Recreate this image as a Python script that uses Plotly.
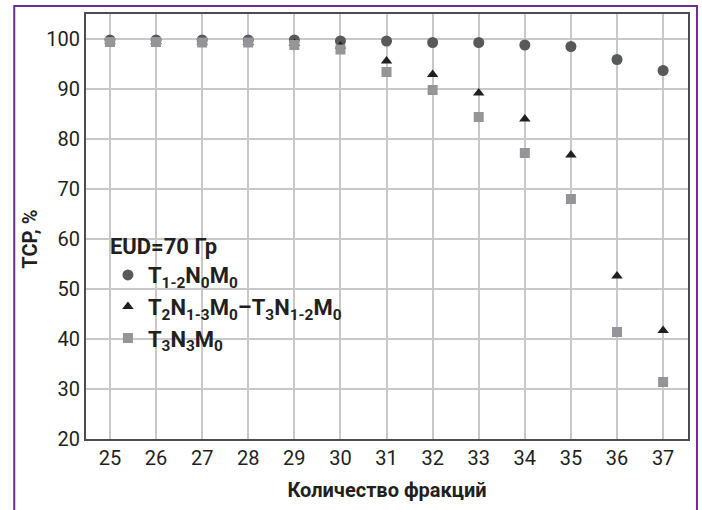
import plotly.graph_objects as go

# Number of fractions
fractions = [25, 26, 27, 28, 29, 30, 31, 32, 33, 34, 35, 36, 37]

# TCP, % for each stage group
tcp_t12n0m0 = [99.8, 99.8, 99.8, 99.8, 99.8, 99.6, 99.6, 99.3, 99.3, 98.8, 98.5, 95.9, 93.7]
tcp_t2n13m0 = [99.6, 99.5, 99.4, 99.3, 99.1, 98.6, 95.6, 92.9, 89.2, 84.0, 76.8, 52.6, 41.7]
tcp_t3n3m0 = [99.4, 99.4, 99.3, 99.3, 98.8, 97.9, 93.4, 89.8, 84.4, 77.2, 68.0, 41.4, 31.4]

x_ticks = list(range(25, 38))
y_ticks = list(range(20, 101, 10))

FONT = "Roboto, Arial, sans-serif"

names = [
    "T<sub>1-2</sub>N<sub>0</sub>M<sub>0</sub>",
    "T<sub>2</sub>N<sub>1-3</sub>M<sub>0</sub>–T<sub>3</sub>N<sub>1-2</sub>M<sub>0</sub>",
    "T<sub>3</sub>N<sub>3</sub>M<sub>0</sub>",
]

fig = go.Figure()
fig.add_trace(go.Scatter(
    x=fractions, y=tcp_t12n0m0, mode="markers", name=names[0],
    marker=dict(symbol="circle", size=11, color="#58595b"),
))
fig.add_trace(go.Scatter(
    x=fractions, y=tcp_t2n13m0, mode="markers", name=names[1],
    marker=dict(symbol="triangle-up", size=10, color="#231f20"),
))
fig.add_trace(go.Scatter(
    x=fractions, y=tcp_t3n3m0, mode="markers", name=names[2],
    marker=dict(symbol="square", size=10, color="#939598"),
))

L, R, T, B = 86, 12, 14, 70
W, H = 702, 510
pw, ph = W - L - R, H - T - B

def px_x(p):
    return (p - L) / pw

def px_y(p):
    return (H - B - p) / ph

fig.update_layout(
    width=W, height=H,
    margin=dict(l=L, r=R, t=T, b=B),
    paper_bgcolor="white", plot_bgcolor="white",
    font=dict(family=FONT, size=20, color="#231f20"),
    showlegend=True,
    legend=dict(
        x=px_x(108), y=px_y(226), xanchor="left", yanchor="top",
        bgcolor="rgba(0,0,0,0)",
        font=dict(family=FONT, size=22, color="#231f20", weight="bold"),
        title=dict(text="<b>EUD=70 Гр</b>", font=dict(family=FONT, size=22)),
        tracegroupgap=0, itemwidth=30,
    ),
    xaxis=dict(
        range=[24.48, 37.54], tickvals=x_ticks, showgrid=True,
        gridcolor="#c8c8c9", gridwidth=1.5, zeroline=False,
        showline=True, linecolor="#4d4d4f", linewidth=2, mirror=True,
        ticks="", tickfont=dict(size=20),
        title=dict(text="<b>Количество фракций</b>", font=dict(size=20), standoff=14),
    ),
    yaxis=dict(
        range=[20, 105], tickvals=y_ticks, showgrid=True,
        gridcolor="#c8c8c9", gridwidth=1.5, zeroline=False,
        showline=True, linecolor="#4d4d4f", linewidth=2, mirror=True,
        ticks="", tickfont=dict(size=20),
    ),
    annotations=[dict(
        text="<b>TCP, %</b>", xref="paper", yref="paper",
        x=px_x(30), y=px_y(240), xanchor="center", yanchor="middle",
        textangle=-90, showarrow=False, font=dict(size=20),
    )],
    shapes=[dict(
        type="rect", xref="paper", yref="paper",
        x0=px_x(14), x1=px_x(699), y0=px_y(520), y1=px_y(6),
        line=dict(color="#6b2d90", width=2), fillcolor="rgba(0,0,0,0)",
        layer="above",
    )],
)

fig.write_html("out.html")
